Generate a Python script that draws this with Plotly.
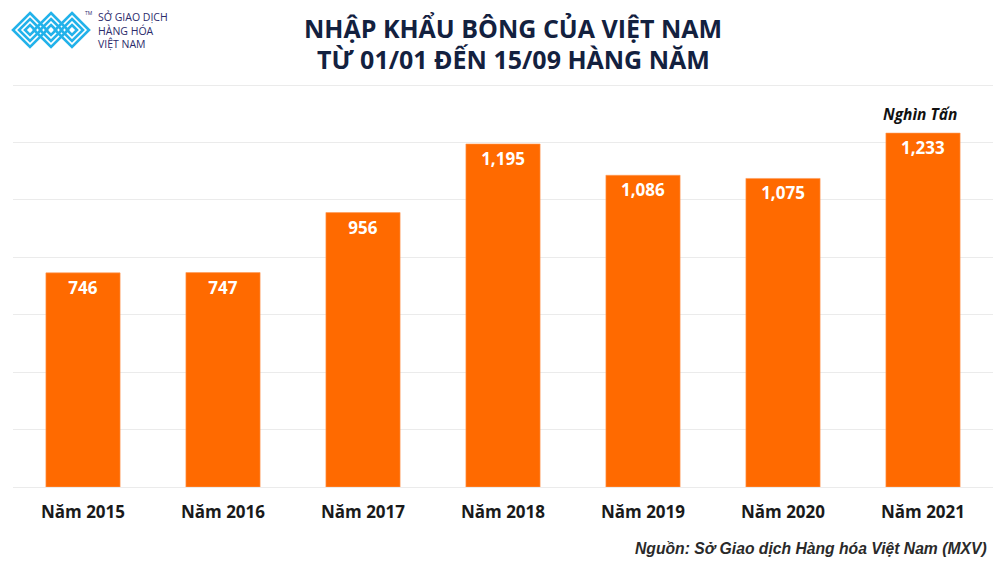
import plotly.graph_objects as go

categories = ["Năm 2015", "Năm 2016", "Năm 2017", "Năm 2018", "Năm 2019", "Năm 2020", "Năm 2021"]
values = [746, 747, 956, 1195, 1086, 1075, 1233]
value_labels = ["746", "747", "956", "1,195", "1,086", "1,075", "1,233"]
grid_values = [0, 200, 400, 600, 800, 1000, 1200, 1400]
title_lines = ["NHẬP KHẨU BÔNG CỦA VIỆT NAM", "TỪ 01/01 ĐẾN 15/09 HÀNG NĂM"]
unit_label = "Nghìn Tấn"
source_label = "Nguồn: Sở Giao dịch Hàng hóa Việt Nam (MXV)"
logo_lines = ["SỞ GIAO DỊCH", "HÀNG HÓA", "VIỆT NAM"]

W, H = 1000, 562
ML, MR, MT, MB = 13, 7, 84, 75
ORANGE = "#FF6A00"
NAVY = "#13213F"

fig = go.Figure()
fig.add_trace(go.Bar(
    x=categories, y=values, text=value_labels,
    textposition="inside", insidetextanchor="end",
    textfont=dict(family="Open Sans", size=17, color="white", weight="bold"),
    marker=dict(color=ORANGE, line=dict(color="#FF9A55", width=0.6)),
    textangle=0, cliponaxis=False, hoverinfo="skip",
))

PW = W - ML - MR
PH = H - MT - MB

def px(x):
    return (x - ML) / PW

def py(y):
    return (H - MB - y) / PH

shapes = []
logo_color = "#22B2EA"
for cx in (30, 51, 72):
    for hs in (17, 11, 5):
        pts = [(cx, 30 - hs), (cx + hs, 30), (cx, 30 + hs), (cx - hs, 30)]
        path = "M " + " L ".join(f"{px(a):.5f},{py(b):.5f}" for a, b in pts) + " Z"
        shapes.append(dict(type="path", xref="paper", yref="paper", path=path,
                           line=dict(color=logo_color, width=2.6)))

annotations = []
for i, t in enumerate(title_lines):
    annotations.append(dict(text=f"<b>{t}</b>", x=px(513), y=py(28 + 31 * i), xref="paper", yref="paper",
                            showarrow=False, xanchor="center", yanchor="middle",
                            font=dict(family="Open Sans", size=25, color=NAVY)))
annotations.append(dict(text="<br>".join(logo_lines), x=px(96), y=py(30), xref="paper", yref="paper",
                        showarrow=False, xanchor="left", yanchor="middle", align="left",
                        font=dict(family="Open Sans", size=10.5, color="#2B2A6B")))
annotations.append(dict(text="TM", x=px(83), y=py(13), xref="paper", yref="paper", showarrow=False,
                        xanchor="left", yanchor="middle", font=dict(family="Open Sans", size=5, color="#2B2A6B")))
annotations.append(dict(text=f"<b><i>{unit_label}</i></b>", x=px(920), y=py(114), xref="paper", yref="paper",
                        showarrow=False, xanchor="center", yanchor="middle",
                        font=dict(family="Open Sans", size=15.5, color="#111111")))
annotations.append(dict(text=f"<b><i>{source_label}</i></b>", x=px(989), y=py(548), xref="paper", yref="paper",
                        showarrow=False, xanchor="right", yanchor="middle",
                        font=dict(family="Liberation Sans", size=15.7, color="#2A2A2A")))

fig.update_layout(
    width=W, height=H,
    margin=dict(l=ML, r=MR, t=MT, b=MB, pad=0),
    paper_bgcolor="white", plot_bgcolor="white",
    bargap=0.47, showlegend=False,
    shapes=shapes, annotations=annotations,
    xaxis=dict(showgrid=False, showline=False, zeroline=False,
               ticks="outside", ticklen=10, tickcolor="rgba(0,0,0,0)",
               tickfont=dict(family="Open Sans", size=17, color="#1A1A1A", weight="bold")),
    yaxis=dict(range=[0, 1404], tickvals=grid_values,
               showgrid=True, gridcolor="#EBEBEB", gridwidth=1,
               showticklabels=False, zeroline=True, zerolinecolor="#EBEBEB", zerolinewidth=1,
               showline=False),
)

fig.write_html("out.html", config={"displayModeBar": False},
               post_script="document.body.style.margin='0px';")
